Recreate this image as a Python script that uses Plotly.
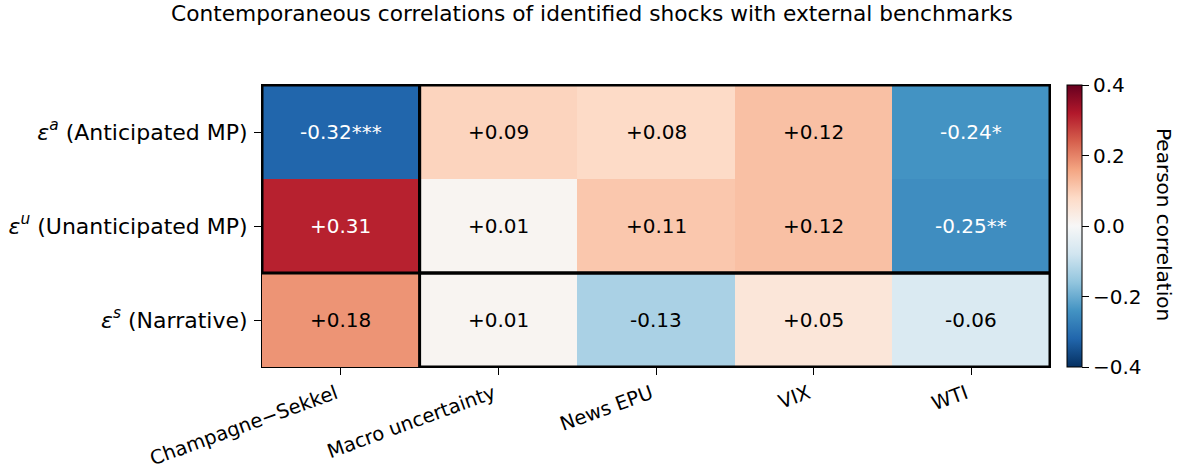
import plotly.graph_objects as go
import plotly.colors as pc

title = "Contemporaneous correlations of identified shocks with external benchmarks"
benchmarks = ["Champagne\u2212Sekkel", "Macro uncertainty", "News EPU", "VIX", "WTI"]
shocks = [
    "<i>\u03b5</i><sup><i>a</i></sup> (Anticipated MP)",
    "<i>\u03b5</i><sup><i>u</i></sup> (Unanticipated MP)",
    "<i>\u03b5</i><sup><i>s</i></sup> (Narrative)",
]
corr_a = [-0.32, 0.09, 0.08, 0.12, -0.24]
corr_u = [0.31, 0.01, 0.11, 0.12, -0.25]
corr_s = [0.18, 0.01, -0.13, 0.05, -0.06]
stars_a = ["***", "", "", "", "*"]
stars_u = ["", "", "", "", "**"]
stars_s = ["", "", "", "", ""]
cbar_ticks = [-0.4, -0.2, 0.0, 0.2, 0.4]
cbar_ticktext = ["\u22120.4", "\u22120.2", "0.0", "0.2", "0.4"]

z = [corr_a, corr_u, corr_s]
stars = [stars_a, stars_u, stars_s]

rdbu = pc.diverging.RdBu[::-1]
n = len(rdbu)
cscale = [[i / (n - 1), c] for i, c in enumerate(rdbu)]

FONT = "DejaVu Sans"
W, H = 1181, 468
L, T = 262, 85
R = W - 1050
B = H - 367
plot_w = W - L - R
plot_h = H - T - B

fig = go.Figure(
    go.Heatmap(
        z=z,
        x=list(range(len(benchmarks))),
        y=list(range(len(shocks))),
        colorscale=cscale,
        zmin=-0.4,
        zmax=0.4,
        hoverinfo="skip",
        colorbar=dict(
            x=(1067 - L) / plot_w,
            xanchor="left",
            xpad=0,
            ypad=0,
            y=0.5,
            yanchor="middle",
            len=1.0,
            lenmode="fraction",
            thickness=15,
            outlinewidth=1,
            outlinecolor="black",
            ticks="outside",
            ticklen=7,
            tickwidth=1,
            tickcolor="black",
            tickvals=cbar_ticks,
            ticktext=cbar_ticktext,
            tickfont=dict(family=FONT, size=20, color="black"),
        ),
    )
)

annotations = []
for i, row in enumerate(z):
    for j, v in enumerate(row):
        txt = f"{v:+.2f}" + stars[i][j]
        annotations.append(
            dict(
                x=j, y=i, xref="x", yref="y", text=txt, showarrow=False,
                font=dict(family=FONT, size=20,
                          color="white" if abs(v) > 0.2 else "black"),
            )
        )

annotations.append(
    dict(
        x=(1164 - L) / plot_w, y=1 - (224 - T) / plot_h,
        xref="paper", yref="paper", text="Pearson correlation",
        showarrow=False, textangle=90, xanchor="center", yanchor="middle",
        font=dict(family=FONT, size=20, color="black"),
    )
)

# highlight boxes
boxes = [
    (0, 0, 0, 1),  # col0 rows 0-1
    (1, 4, 0, 1),  # cols1-4 rows 0-1
    (1, 4, 2, 2),  # cols1-4 row 2
]
shapes = []
for c0, c1, r0, r1 in boxes:
    shapes.append(
        dict(type="rect", xref="x", yref="y",
             x0=c0 - 0.5, x1=c1 + 0.5, y0=r0 - 0.5, y1=r1 + 0.5,
             line=dict(color="black", width=3), fillcolor="rgba(0,0,0,0)")
    )

fig.update_layout(
    width=W,
    height=H,
    margin=dict(l=L, r=R, t=T, b=B, autoexpand=False),
    paper_bgcolor="white",
    plot_bgcolor="white",
    font=dict(family=FONT, size=20, color="black"),
    title=dict(
        text=title, x=592 / W, xref="container", xanchor="center",
        y=1 - 13 / H, yref="container", yanchor="middle",
        font=dict(family=FONT, size=21.7, color="black"),
    ),
    annotations=annotations,
    shapes=shapes,
)

fig.update_xaxes(
    tickmode="array",
    tickvals=list(range(len(benchmarks))),
    ticktext=benchmarks,
    tickangle=-20,
    ticks="outside",
    ticklen=7,
    tickwidth=1,
    tickcolor="black",
    ticklabelshift=-5,
    showline=True,
    linecolor="black",
    linewidth=1,
    mirror=True,
    showgrid=False,
    zeroline=False,
    automargin=False,
    range=[-0.5, len(benchmarks) - 0.5],
    tickfont=dict(family=FONT, size=19.5, color="black"),
)
fig.update_yaxes(
    tickmode="array",
    tickvals=list(range(len(shocks))),
    ticktext=shocks,
    ticks="outside",
    ticklen=7,
    tickwidth=1,
    tickcolor="black",
    ticklabelstandoff=2,
    showline=True,
    linecolor="black",
    linewidth=1,
    mirror=True,
    showgrid=False,
    zeroline=False,
    automargin=False,
    range=[len(shocks) - 0.5, -0.5],
    tickfont=dict(family=FONT, size=22, color="black"),
)

fig.write_html(
    "out.html",
    config={"displayModeBar": False},
    post_script="document.body.style.margin='0';document.body.style.padding='0';",
)
